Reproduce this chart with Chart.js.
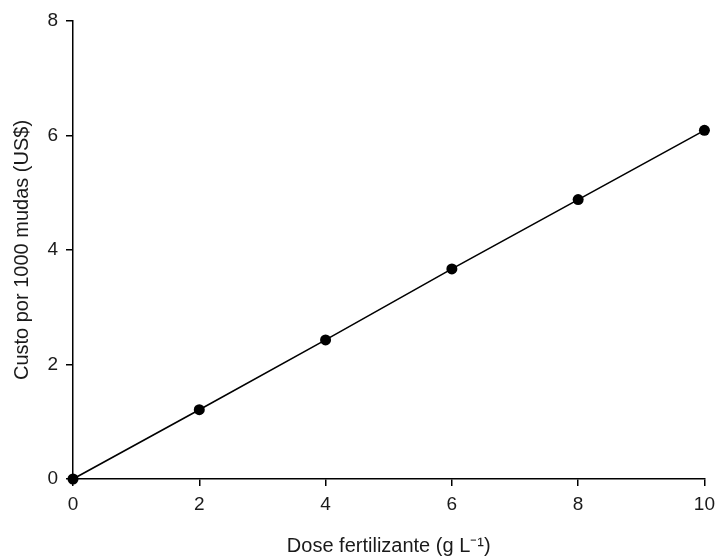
<!DOCTYPE html>
<html>
<head>
<meta charset="utf-8">
<script src="https://cdn.jsdelivr.net/npm/chart.js@4/dist/chart.umd.min.js"></script>
<style>
  html, body { margin: 0; padding: 0; background: #fff; }
  #wrap { width: 722px; height: 559px; }
</style>
</head>
<body>
<div id="wrap"><canvas id="chart"></canvas></div>
<script>
// dose (g L-1) e custo por 1000 mudas (US$)
const doses = [0, 2, 4, 6, 8, 10];
const custos = [0, 1.21, 2.43, 3.67, 4.88, 6.09];
const xTicks = [0, 2, 4, 6, 8, 10];
const yTicks = [0, 2, 4, 6, 8];

const fonte = { family: 'Liberation Sans, Arial, sans-serif', size: 19 };
const fonteTitulo = { family: 'Liberation Sans, Arial, sans-serif', size: 20 };
const cor = '#1a1a1a';

const ctx = document.getElementById('chart').getContext('2d');
new Chart(ctx, {
  type: 'scatter',
  data: {
    datasets: [{
      data: doses.map((d, i) => ({ x: d, y: custos[i] })),
      showLine: true,
      borderColor: '#000',
      borderWidth: 1.6,
      backgroundColor: '#000',
      pointRadius: 5.5,
      pointBorderWidth: 0,
      clip: false
    }]
  },
  options: {
    responsive: true,
    maintainAspectRatio: false,
    animation: false,
    layout: { padding: { top: 21, right: 12, bottom: 0, left: 0 } },
    plugins: { legend: { display: false }, tooltip: { enabled: false } },
    scales: {
      x: {
        type: 'linear',
        min: 0, max: 10,
        afterBuildTicks: (s) => { s.ticks = xTicks.map(v => ({ value: v })); },
        afterFit: (s) => { s.height = 80; },
        grid: { drawOnChartArea: false, drawTicks: true, tickLength: 7, color: '#000', lineWidth: 1.5 },
        border: { display: true, color: '#000', width: 1.5 },
        ticks: { color: cor, font: fonte, padding: 7, maxRotation: 0 },
        title: {
          display: true,
          text: 'Dose fertilizante (g L⁻¹)',
          color: cor, font: fonteTitulo,
          padding: { top: 0, bottom: 1 }
        }
      },
      y: {
        type: 'linear',
        min: 0, max: 8,
        afterBuildTicks: (s) => { s.ticks = yTicks.map(v => ({ value: v })); },
        afterFit: (s) => { s.width = 73; },
        grid: { drawOnChartArea: false, drawTicks: true, tickLength: 7, color: '#000', lineWidth: 1.5 },
        border: { display: true, color: '#000', width: 1.5 },
        ticks: { color: cor, font: fonte, padding: 8 },
        title: {
          display: true,
          text: 'Custo por 1000 mudas (US$)',
          color: cor, font: fonteTitulo,
          padding: { top: 10, bottom: 0 }
        }
      }
    }
  }
});
</script>
</body>
</html>
